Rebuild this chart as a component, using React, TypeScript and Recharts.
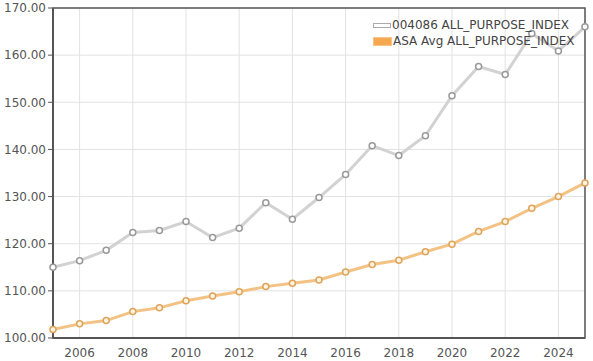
import { CartesianGrid, Legend, Line, LineChart, ReferenceArea, XAxis, YAxis } from "recharts";

const years = [2005, 2006, 2007, 2008, 2009, 2010, 2011, 2012, 2013, 2014, 2015, 2016, 2017, 2018, 2019, 2020, 2021, 2022, 2023, 2024, 2025];
const fundIndex = [115.0, 116.4, 118.6, 122.4, 122.8, 124.7, 121.3, 123.3, 128.7, 125.2, 129.8, 134.7, 140.8, 138.7, 142.9, 151.4, 157.6, 155.9, 164.6, 160.9, 166.0];
const asaAvg = [101.8, 103.0, 103.7, 105.6, 106.4, 107.9, 108.9, 109.8, 110.9, 111.6, 112.3, 114.0, 115.6, 116.5, 118.3, 119.9, 122.6, 124.7, 127.5, 130.0, 132.9];
const xTicks = [2006, 2008, 2010, 2012, 2014, 2016, 2018, 2020, 2022, 2024];
const yTicks = [100, 110, 120, 130, 140, 150, 160, 170];

const fundName = "004086 ALL_PURPOSE_INDEX";
const avgName = "ASA Avg ALL_PURPOSE_INDEX";

const rows = years.map((year, i) => ({ year, fund: fundIndex[i], avg: asaAvg[i] }));

const font = "'DejaVu Sans', Verdana, sans-serif";

function LegendBox() {
  const text = { fontSize: 12, color: "#444", fontFamily: font, lineHeight: "16px", whiteSpace: "nowrap" as const };
  return (
    <div style={{ position: "absolute", left: 373, top: 17 }}>
      <div style={{ display: "flex", alignItems: "center" }}>
        <span style={{ width: 16, height: 3, border: "1px solid #aaa", background: "#fff", marginRight: 1 }} />
        <span style={text}>{fundName}</span>
      </div>
      <div style={{ display: "flex", alignItems: "center" }}>
        <span style={{ width: 17, height: 7, border: "1px solid #f8c48a", background: "#f5a850", marginRight: 1 }} />
        <span style={text}>{avgName}</span>
      </div>
    </div>
  );
}

export default function App() {
  return (
    <div style={{ position: "absolute", left: 0, top: 0, width: 593, height: 361, background: "#fff" }}>
      <LineChart width={593} height={361} data={rows} margin={{ top: 8, right: 8, left: 0, bottom: 0 }}>
        <CartesianGrid stroke="#e2e2e2" strokeWidth={1} />
        <XAxis
          dataKey="year"
          type="number"
          domain={[2005, 2025]}
          ticks={xTicks}
          height={23}
          tickLine={false}
          axisLine={{ stroke: "#555", strokeWidth: 2 }}
          tick={{ fill: "#555", fontSize: 12, fontFamily: font }}
          tickMargin={4}
        />
        <YAxis
          type="number"
          domain={[100, 170]}
          ticks={yTicks}
          width={53}
          tickSize={5}
          tickLine={{ stroke: "#555" }}
          axisLine={{ stroke: "#555", strokeWidth: 2 }}
          tick={{ fill: "#555", fontSize: 12, fontFamily: font }}
          tickFormatter={(v: number) => v.toFixed(2)}
        />
        <ReferenceArea x1={2005} x2={2025} y1={100} y2={170} fill="none" stroke="#555" strokeWidth={1.5} />
        <Line
          dataKey="fund"
          name={fundName}
          stroke="#d2d2d2"
          strokeWidth={3}
          dot={{ r: 3, fill: "#fff", stroke: "#999", strokeWidth: 1.5 }}
          isAnimationActive={false}
        />
        <Line
          dataKey="avg"
          name={avgName}
          stroke="#f2c384"
          strokeWidth={3}
          dot={{ r: 3, fill: "#fff4e4", stroke: "#dea45a", strokeWidth: 1.5 }}
          isAnimationActive={false}
        />
        <Legend content={() => null} />
      </LineChart>
      <LegendBox />
    </div>
  );
}
